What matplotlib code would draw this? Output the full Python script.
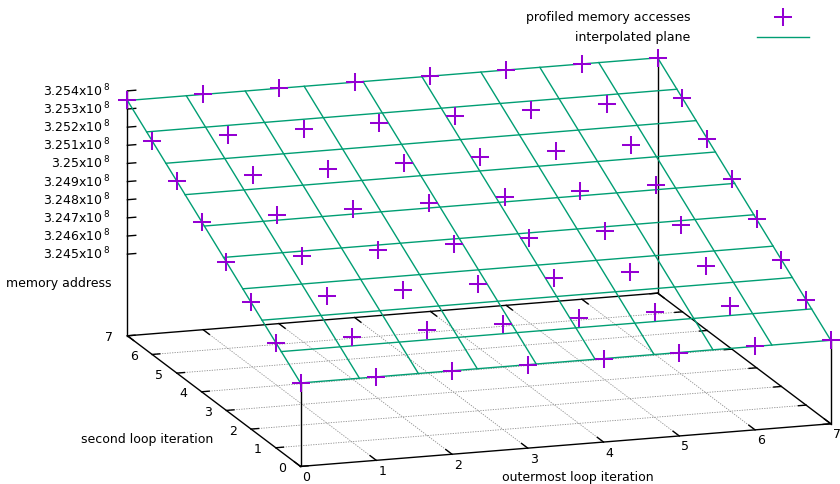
import numpy as np
import matplotlib
matplotlib.use('Agg')
import matplotlib.pyplot as plt

plt.rcParams['font.family'] = 'DejaVu Sans'
plt.rcParams['font.size'] = 9

W, H = 840, 484

# loop iterations (x = outermost, y = second loop)
outer_iter = [0, 1, 2, 3, 4, 5, 6, 7]
second_iter = [0, 1, 2, 3, 4, 5, 6, 7]

# profiled memory addresses, one row per second-loop iteration
accesses = [
    [324510000, 324510000, 324510000, 324510000, 324510000, 324510000, 324510000, 324510000],
    [324629600, 324629600, 324629600, 324629600, 324629600, 324629600, 324629600, 324629600],
    [324749100, 324749100, 324749100, 324749100, 324749100, 324749100, 324749100, 324749100],
    [324868700, 324868700, 324868700, 324868700, 324868700, 324868700, 324868700, 324868700],
    [324988300, 324988300, 324988300, 324988300, 324988300, 324988300, 324988300, 324988300],
    [325107800, 325107800, 325107800, 325107800, 325107800, 325107800, 325107800, 325107800],
    [325227400, 325227400, 325227400, 325227400, 325227400, 325227400, 325227400, 325227400],
    [325347000, 325347000, 325347000, 325347000, 325347000, 325347000, 325347000, 325347000],
]

# fitted plane z = plane_z0 + plane_dx * x + plane_dy * y
plane_z0 = 324510000.0
plane_dx = 0.0
plane_dy = 119570.0
plane_samples = 10

x_ticks = [0, 1, 2, 3, 4, 5, 6, 7]
y_ticks = [0, 1, 2, 3, 4, 5, 6, 7]
z_ticks = [3.245e8, 3.246e8, 3.247e8, 3.248e8, 3.249e8,
           3.250e8, 3.251e8, 3.252e8, 3.253e8, 3.254e8]
z_tick_labels = ['3.245', '3.246', '3.247', '3.248', '3.249',
                 '3.25', '3.251', '3.252', '3.253', '3.254']
z_min, z_max = 3.245e8, 3.254e8
ticslevel = 0.5
z_base = z_min - ticslevel * (z_max - z_min)

violet = '#9400D3'
green = '#009E73'

fig = plt.figure(figsize=(W / 100, H / 100), dpi=100)
S0 = 500.0
c0 = np.array([W / 2, H / 2])
ax = fig.add_axes([(c0[0] - S0 / 2) / W, (c0[1] - S0 / 2) / H, S0 / W, S0 / H],
                  projection='3d', computed_zorder=False)
ax.set_proj_type('ortho')
ax.view_init(elev=14.26, azim=-108.08)
ax.set_box_aspect((557.4, 557.4, 252.5))
xlo, xhi = x_ticks[0], x_ticks[-1]
ylo, yhi = y_ticks[0], y_ticks[-1]
ax.set_xlim(xlo, xhi)
ax.set_ylim(ylo, yhi)
ax.set_zlim(z_base, z_max)
ax.set_axis_off()


def plane(x, y):
    return plane_z0 + plane_dx * np.asarray(x) + plane_dy * np.asarray(y)


kw = dict(clip_on=False)

# grid on the base
grid_kw = dict(color='#8c8c8c', lw=0.6, ls=(0, (1.5, 1.5)), zorder=1, **kw)
for xv in x_ticks[1:-1]:
    ax.plot([xv, xv], [ylo, yhi], [z_base, z_base], **grid_kw)
for yv in y_ticks[1:-1]:
    ax.plot([xlo, xhi], [yv, yv], [z_base, z_base], **grid_kw)

# border of the base and tics
bk = dict(color='black', lw=1.0, zorder=2, **kw)
ax.plot([xlo, xhi, xhi, xlo, xlo], [ylo, ylo, yhi, yhi, ylo], [z_base] * 5, **bk)
for xv in x_ticks:
    ax.plot([xv, xv], [ylo, ylo + 0.25], [z_base, z_base], **bk)
    ax.plot([xv, xv], [yhi, yhi - 0.25], [z_base, z_base], **bk)
for yv in y_ticks:
    ax.plot([xlo, xlo + 0.1], [yv, yv], [z_base, z_base], **bk)
    ax.plot([xhi, xhi - 0.1], [yv, yv], [z_base, z_base], **bk)

# z axis and corner verticals
ax.plot([xlo, xlo], [yhi, yhi], [z_base, z_max], **bk)
for zv in z_ticks:
    ax.plot([xlo, xlo + 0.11], [yhi, yhi], [zv, zv], **bk)
for cx, cy in [(xlo, ylo), (xhi, ylo), (xhi, yhi)]:
    ax.plot([cx, cx], [cy, cy], [z_base, plane(cx, cy)], **bk)

# interpolated plane
ps = np.linspace(xlo, xhi, plane_samples)
qs = np.linspace(ylo, yhi, plane_samples)
plane_lines = []
for q in qs:
    plane_lines += ax.plot(ps, np.full_like(ps, q), plane(ps, q),
                           color=green, lw=1.0, zorder=3, **kw)
for p in ps:
    ax.plot(np.full_like(qs, p), qs, plane(p, qs), color=green, lw=1.0, zorder=3, **kw)
plane_lines[0].set_label('interpolated plane')

# profiled points
X, Y = np.meshgrid(outer_iter, second_iter)
Z = np.array(accesses, dtype=float)
pts, = ax.plot(X.ravel(), Y.ravel(), Z.ravel(), ls='none', marker='+', ms=13, mew=1.45,
               color=violet, zorder=4, label='profiled memory accesses', **kw)

fig.text(578 / W, 1 - 477 / H, 'outermost loop iteration', ha='center', va='center')
fig.text(147 / W, 1 - 439 / H, 'second loop iteration', ha='center', va='center')
fig.text(59 / W, 1 - 283 / H, 'memory address', ha='center', va='center')

ax.legend(handles=[pts, plane_lines[0]], loc='upper right',
          bbox_to_anchor=(809 / W, 1 - 11 / H), bbox_transform=fig.transFigure,
          frameon=False, markerfirst=False, borderpad=0, borderaxespad=0,
          handlelength=4.2, handletextpad=5.3, labelspacing=0.55)

# fit the projected box onto the reference placement
fig.canvas.draw()


def to_disp(x, y, z):
    v = ax.get_proj() @ np.array([x, y, z, 1.0])
    return ax.transData.transform((v[0] / v[3], v[1] / v[3]))


refs = [((xlo, ylo, z_base), (300.0, 466.0)),
        ((xhi, ylo, z_base), (830.7, 423.3)),
        ((xhi, yhi, z_base), (658.3, 294.0)),
        ((xlo, yhi, z_base), (127.3, 335.7)),
        ((xlo, yhi, z_max), (127.5, 91.0))]
P = np.array([to_disp(*r[0]) for r in refs])
T = np.array([(r[1][0], H - r[1][1]) for r in refs])
Pm, Tm = P.mean(axis=0), T.mean(axis=0)
k = np.sum((P - Pm) * (T - Tm)) / np.sum((P - Pm) ** 2)
t = Tm - k * Pm
S1 = k * S0
c1 = k * c0 + t
ax.set_position([(c1[0] - S1 / 2) / W, (c1[1] - S1 / 2) / H, S1 / W, S1 / H])
fig.canvas.draw()


def label_at(x, y, z, s, dx, dy, **kwargs):
    d = to_disp(x, y, z)
    fig.text((d[0] + dx) / W, (d[1] + dy) / H, s, **kwargs)


# tic labels, placed next to the projected tic positions
for xv in x_ticks:
    label_at(xv, ylo, z_base, str(xv), 6, -11, ha='center', va='center')
for yv in y_ticks:
    label_at(xlo, yv, z_base, str(yv), -18, -2, ha='center', va='center')
for zv, lab in zip(z_ticks, z_tick_labels):
    label_at(xlo, yhi, zv, lab + r'x10$^{\,8}$', -17, 0, ha='right', va='center')

fig.savefig('out.png', dpi=100)
